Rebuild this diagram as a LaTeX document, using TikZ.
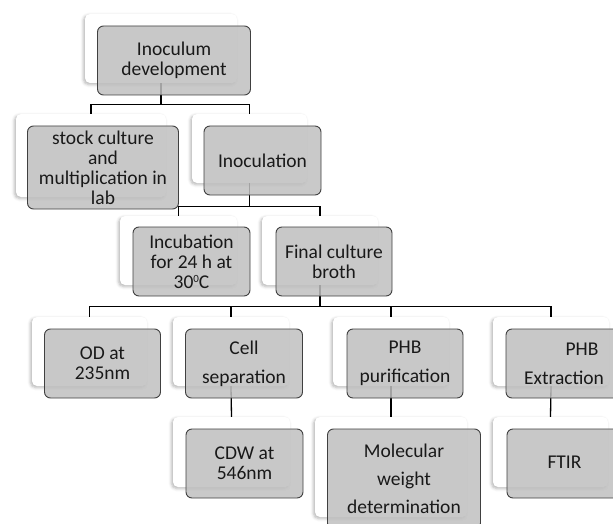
\documentclass[tikz,border=0pt]{standalone}
\usepackage{fontspec}
\setmainfont{Carlito}
\usetikzlibrary{calc,shadows.blur}

\tikzset{
  card/.style={fill=white, rounded corners=5pt, inner sep=0pt,
    blur shadow={shadow xshift=-1.5pt, shadow yshift=-1.5pt, shadow blur radius=3pt, shadow opacity=30}},
  box/.style={fill=black!25, fill opacity=0.85, text opacity=1, draw=black!75, line width=0.9pt,
    rounded corners=6pt, inner sep=0pt, align=center, text=black!90,
    font=\fontsize{19.5}{20}\selectfont},
  link/.style={line width=1.3pt, black}
}

\begin{document}
\begin{tikzpicture}[x=1pt,y=-1pt]
			\useasboundingbox (0,0) rectangle (613,524);
			% back cards
			\node[card, minimum width=152, minimum height=69] (dev-b) at (161,48.5) {};
			\node[card, minimum width=150, minimum height=83] (stock-b) at (91,155.5) {};
			\node[card, minimum width=115, minimum height=69] (inoc-b) at (249.5,148.5) {};
			\node[card, minimum width=117, minimum height=69] (incub-b) at (178.5,250.5) {};
			\node[card, minimum width=116, minimum height=69] (final-b) at (320,250.5) {};
			\node[card, minimum width=115, minimum height=69] (od-b) at (89.5,351.5) {};
			\node[card, minimum width=116, minimum height=69] (cell-b) at (231,351.5) {};
			\node[card, minimum width=116, minimum height=69] (pur-b) at (391,351.5) {};
			\node[card, minimum width=116, minimum height=69] (ext-b) at (551,351.5) {};
			\node[card, minimum width=117, minimum height=70] (cdw-b) at (231.5,452) {};
			\node[card, minimum width=152, minimum height=100] (mol-b) at (391,467) {};
			\node[card, minimum width=115, minimum height=70] (ftir-b) at (550.5,452) {};

			% connectors
			\coordinate (j1) at ($(dev-b.south)+(0,21)$);
			\draw[link] (dev-b.south) -- (j1);
			\draw[link] (stock-b.north) |- (j1) -| (inoc-b.north);
			\coordinate (j2) at ($(inoc-b.south)+(0,23)$);
			\draw[link] (inoc-b.south) -- (j2);
			\draw[link] (incub-b.north) |- (j2) -| (final-b.north);
			\coordinate (j3) at ($(final-b.south)+(0,21)$);
			\draw[link] (final-b.south) -- (j3);
			\draw[link] (od-b.north) |- (j3) -| (ext-b.north);
			\draw[link] (cell-b.north) -- (cell-b.north |- j3);
			\draw[link] (pur-b.north) -- (pur-b.north |- j3);
			\draw[link] (cell-b.south) -- (cdw-b.north);
			\draw[link] (pur-b.south) -- (mol-b.north);
			\draw[link] (ext-b.south) -- (ftir-b.north);

			% front boxes
			\node[box, minimum width=153, minimum height=69] (dev) at ($(dev-b)+(13,12)$) {Inoculum\\development};
			\node[box, minimum width=151, minimum height=83] (stock) at ($(stock-b)+(12,12)$) {stock culture\\and\\multiplication in\\lab};
			\node[box, minimum width=117, minimum height=69] (inoc) at ($(inoc-b)+(13,12)$) {Inoculation};
			\node[box, minimum width=117, minimum height=69] (incub) at ($(incub-b)+(13,11)$) {Incubation\\for 24 h at\\30\raisebox{6pt}{\fontsize{11}{11}\selectfont 0}C};
			\node[box, minimum width=116, minimum height=69] (final) at ($(final-b)+(14,11)$) {Final culture\\broth};
			\node[box, minimum width=116, minimum height=69] (od) at ($(od-b)+(13,12)$) {OD at\\235nm};
			\node[box, minimum width=117, minimum height=69] (cell) at ($(cell-b)+(13,12)$) {Cell\\[9pt]separation};
			\node[box, minimum width=116, minimum height=69] (pur) at ($(pur-b)+(14,12)$) {PHB\\[9pt]purification};
			\node[box, minimum width=116, minimum height=69] (ext) at ($(ext-b)+(13,12)$) {\hspace*{36pt}PHB\\[9pt]Extraction};
			\node[box, minimum width=117, minimum height=69] (cdw) at ($(cdw-b)+(13,11.5)$) {CDW at\\546nm};
			\node[box, minimum width=153, minimum height=100] (mol) at ($(mol-b)+(13,12)$) {Molecular\\[8pt]weight\\[8pt]determination};
			\node[box, minimum width=115, minimum height=69, text depth=2pt] (ftir) at ($(ftir-b)+(14,11.5)$) {FTIR};
		\end{tikzpicture}
\end{document}
